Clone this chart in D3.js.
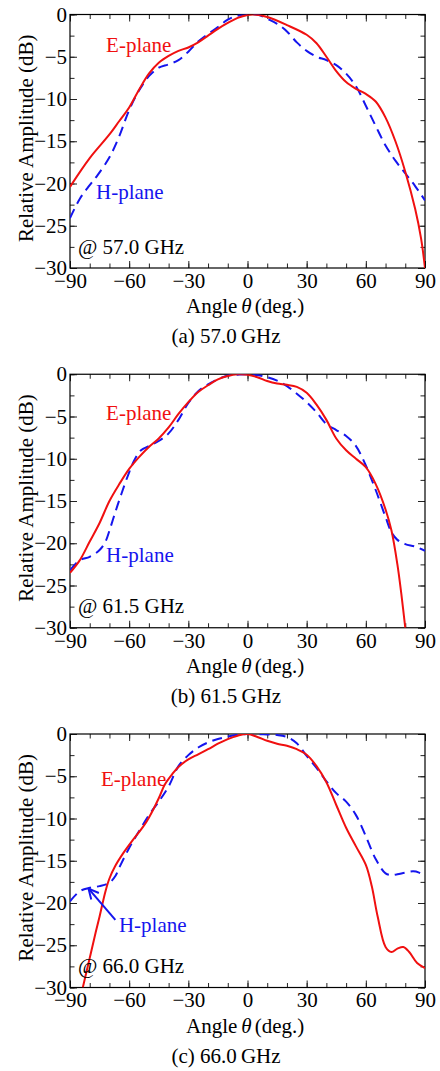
<!DOCTYPE html>
<meta charset="utf-8">
<script src="https://d3js.org/d3.v7.min.js"></script>
<style>
  body { margin: 0; background: #fff; }
  text { font-family: "Liberation Serif", "Times New Roman", Times, serif; }
</style>
<div id="chart"></div>
<script>

// measured patterns, [angle (deg), relative amplitude (dB)]
var e57 = [[-90,-20.4],[-80,-17.0],[-70,-14.2],[-65,-12.6],[-60,-11.0],[-55,-8.9],[-50,-7.0],[-45,-5.7],[-40,-4.9],[-35,-4.3],[-30,-3.9],[-25,-3.3],[-20,-2.5],[-15,-1.7],[-10,-1.0],[-5,-0.4],[0,-0.05],[3,0],[10,-0.3],[20,-1.25],[30,-2.4],[35,-3.4],[40,-5.0],[45,-6.7],[50,-8.0],[55,-8.8],[60,-9.4],[65,-10.3],[70,-12.2],[75,-15.0],[80,-18.6],[85,-23.0],[88,-26.5],[90,-30]];
var h57 = [[-90,-24.1],[-85,-21.8],[-80,-20.2],[-76,-19.0],[-70,-16.9],[-65,-14.4],[-60,-11.3],[-55,-9.0],[-50,-7.3],[-45,-6.3],[-40,-5.9],[-35,-5.4],[-30,-4.4],[-25,-3.2],[-20,-2.3],[-15,-1.5],[-10,-0.6],[-5,-0.15],[0,0],[5,0],[10,-0.5],[15,-1.1],[20,-2.0],[25,-3.3],[30,-4.3],[35,-5.0],[40,-5.4],[45,-6.0],[50,-7.0],[55,-8.5],[60,-10.8],[65,-13.2],[70,-15.5],[75,-17.3],[80,-18.8],[85,-20.3],[90,-22.0]];

var e615 = [[-90,-23.5],[-85,-22.0],[-80,-19.8],[-75,-17.6],[-70,-15.0],[-65,-13.0],[-60,-11.2],[-55,-9.8],[-50,-8.6],[-45,-7.6],[-40,-6.3],[-35,-4.7],[-30,-3.3],[-25,-2.1],[-20,-1.3],[-15,-0.6],[-10,-0.2],[-5,0],[0,-0.05],[5,-0.35],[10,-0.8],[15,-1.1],[20,-1.25],[25,-1.5],[30,-2.2],[35,-3.6],[40,-5.4],[45,-7.6],[50,-9.0],[55,-10.0],[60,-11.0],[65,-13.0],[70,-16.0],[73,-18.5],[76,-22.5],[78,-26.0],[80,-30]];
var h615 = [[-90,-23.2],[-85,-22.0],[-80,-21.6],[-75,-20.8],[-72,-19.8],[-70,-18.5],[-67,-16.3],[-64,-14.2],[-60,-11.6],[-57,-10.0],[-54,-9.0],[-50,-8.5],[-45,-7.9],[-40,-7.0],[-35,-5.4],[-30,-3.4],[-25,-2.0],[-20,-1.2],[-15,-0.6],[-10,-0.15],[-5,-0.05],[0,0],[5,-0.1],[10,-0.35],[15,-0.75],[20,-1.4],[25,-2.3],[30,-3.3],[35,-4.5],[40,-5.9],[45,-6.6],[50,-7.3],[55,-8.5],[60,-10.8],[65,-13.7],[70,-16.9],[73,-18.7],[76,-19.6],[80,-20.1],[85,-20.4],[90,-20.9]];

var e66 = [[-83.5,-30],[-80,-26.5],[-77,-23.5],[-75,-21.6],[-72,-18.6],[-70,-17.1],[-67,-15.6],[-63,-14.1],[-58,-12.5],[-53,-11.0],[-50,-9.9],[-45,-7.6],[-42,-6.0],[-38,-4.7],[-35,-3.9],[-30,-3.0],[-25,-2.4],[-20,-1.8],[-15,-1.15],[-10,-0.6],[-5,-0.2],[0,0],[5,-0.35],[10,-0.8],[15,-1.15],[20,-1.4],[25,-1.8],[30,-2.45],[35,-3.8],[40,-5.7],[45,-8.4],[50,-11.1],[55,-13.3],[60,-15.5],[63,-18.0],[66,-21.6],[70,-25.2],[73,-25.8],[76,-25.4],[79,-25.2],[82,-25.8],[86,-27.1],[90,-27.7]];
var h66 = [[-90,-19.8],[-85,-18.6],[-80,-18.2],[-75,-18.0],[-70,-17.6],[-67,-16.8],[-65,-15.8],[-60,-13.5],[-55,-11.5],[-50,-9.6],[-45,-8.0],[-40,-6.2],[-35,-3.8],[-30,-2.5],[-25,-1.6],[-20,-1.0],[-15,-0.6],[-10,-0.3],[-5,-0.08],[0,0],[5,-0.02],[10,-0.06],[15,-0.12],[20,-0.35],[25,-1.1],[30,-2.6],[35,-4.0],[40,-5.6],[45,-7.0],[50,-8.0],[55,-9.6],[60,-12.1],[65,-14.8],[70,-16.5],[73,-16.7],[76,-16.6],[80,-16.4],[84,-16.25],[87,-16.4],[90,-16.8]];

var xMajor = [-90,-60,-30,0,30,60,90];
var xMinor = d3.range(-90, 91, 10);
var yMajor = [0,-5,-10,-15,-20,-25,-30];
var yMinor = d3.range(0, -30.1, -2.5);

var panels = [
  {freq: "57.0", tag: "(a)", e: e57, h: h57, eLab: [-71.7,-4.4], hLab: [-76.8,-21.8], arrow: null},
  {freq: "61.5", tag: "(b)", e: e615, h: h615, eLab: [-71.7,-5.4], hLab: [-71.7,-22.2], arrow: null},
  {freq: "66.0", tag: "(c)", e: e66, h: h66, eLab: [-74.3,-6.2], hLab: [-65.2,-23.4], arrow: [[-67,-22.0],[-80.6,-18.3]]}
];

var W = 440, H = 1071;
var left = 70, right = 425, top0 = 14.5, ph = 253.5, step = 359.75;
var fs = 21;
var red = "#f01010", blue = "#1515ee";

var svg = d3.select("#chart").append("svg")
    .attr("width", W).attr("height", H)
    .style("display", "block");

var defs = svg.append("defs");
defs.append("marker")
    .attr("id", "arr")
    .attr("viewBox", "0 0 12 12")
    .attr("refX", 11).attr("refY", 6)
    .attr("markerWidth", 12).attr("markerHeight", 12)
    .attr("markerUnits", "userSpaceOnUse")
    .attr("orient", "auto")
  .append("path")
    .attr("d", "M1,1 L11,6 L1,11")
    .attr("fill", "none")
    .attr("stroke", blue)
    .attr("stroke-width", 2);

var x = d3.scaleLinear().domain([-90, 90]).range([left, right]);

panels.forEach(function(p, i) {
  var top = top0 + i * step;
  var y = d3.scaleLinear().domain([0, -30]).range([top, top + ph]);
  var g = svg.append("g");

  defs.append("clipPath").attr("id", "clip" + i)
    .append("rect").attr("x", left).attr("y", top).attr("width", right - left).attr("height", ph);

  // ticks, inward on all four sides
  function tickAxis(axis, vals, size, tx, ty, pad) {
    var a = g.append("g").attr("transform", "translate(" + tx + "," + ty + ")")
      .call(axis.tickValues(vals).tickSize(-size).tickSizeOuter(0)
        .tickPadding(pad || 0)
        .tickFormat(pad ? d3.format("d") : ""));
    a.select(".domain").remove();
    a.selectAll("line").attr("stroke", "#222");
    a.selectAll("text").style("font-size", fs + "px").attr("fill", "#000")
      .style("font-family", '"Liberation Serif","Times New Roman",Times,serif');
    return a;
  }
  tickAxis(d3.axisBottom(x), xMinor, 4.5, 0, top + ph);
  tickAxis(d3.axisTop(x), xMinor, 4.5, 0, top);
  tickAxis(d3.axisBottom(x), xMajor, 7, 0, top + ph, 5);
  tickAxis(d3.axisTop(x), xMajor, 7, 0, top);
  tickAxis(d3.axisLeft(y), yMinor, 4.5, left, 0);
  tickAxis(d3.axisRight(y), yMinor, 4.5, right, 0);
  tickAxis(d3.axisLeft(y), yMajor, 7, left, 0, 3);
  tickAxis(d3.axisRight(y), yMajor, 7, right, 0);

  g.append("rect")
    .attr("x", left).attr("y", top).attr("width", right - left).attr("height", ph)
    .attr("fill", "none").attr("stroke", "#000").attr("stroke-width", 1.2);

  var line = d3.line()
    .x(function(d) { return x(d[0]); })
    .y(function(d) { return y(d[1]); })
    .curve(d3.curveCatmullRom.alpha(0.5));

  var plot = g.append("g").attr("clip-path", "url(#clip" + i + ")");
  plot.append("path").datum(p.h).attr("d", line)
    .attr("fill", "none").attr("stroke", blue).attr("stroke-width", 2)
    .attr("stroke-dasharray", "10,6");
  plot.append("path").datum(p.e).attr("d", line)
    .attr("fill", "none").attr("stroke", red).attr("stroke-width", 2);

  g.append("text").attr("x", x(p.eLab[0])).attr("y", y(p.eLab[1]))
    .attr("fill", red).style("font-size", fs + "px").text("E-plane");
  g.append("text").attr("x", x(p.hLab[0])).attr("y", y(p.hLab[1]))
    .attr("fill", blue).style("font-size", fs + "px").text("H-plane");

  if (p.arrow) {
    g.append("line")
      .attr("x1", x(p.arrow[0][0])).attr("y1", y(p.arrow[0][1]))
      .attr("x2", x(p.arrow[1][0])).attr("y2", y(p.arrow[1][1]))
      .attr("stroke", blue).attr("stroke-width", 2)
      .attr("marker-end", "url(#arr)");
  }

  g.append("text").attr("x", x(-86)).attr("y", y(-28.3))
    .style("font-size", fs + "px").text("@ " + p.freq + " GHz");

  // axis titles
  g.append("text")
    .attr("transform", "translate(33," + (top + ph / 2 - 3) + ") rotate(-90)")
    .attr("text-anchor", "middle")
    .style("font-size", fs + "px")
    .text("Relative Amplitude (dB)");

  var t = g.append("text").attr("x", 186).attr("y", top + ph + 45).style("font-size", fs + "px");
  t.append("tspan").text("Angle");
  t.append("tspan").attr("dx", 4).style("font-style", "italic").text("θ");
  t.append("tspan").attr("dx", 3).text("(deg.)");

  g.append("text").attr("x", 226).attr("y", top + ph + 75)
    .attr("text-anchor", "middle").style("font-size", fs + "px")
    .text(p.tag + " " + p.freq + "\u2009GHz");
});

</script>
